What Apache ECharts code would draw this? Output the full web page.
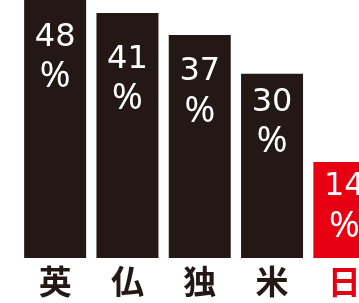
<!DOCTYPE html>
<html>
<head>
<meta charset="utf-8">
<script src="https://cdn.jsdelivr.net/npm/echarts@6/dist/echarts.min.js"></script>
<style>
html,body{margin:0;padding:0;background:#fff;}
#c{width:359px;height:303px;}
</style>
</head>
<body>
<div id="c"></div>
<script>
// data
var categories = ['英', '仏', '独', '米', '日'];
var values = [48, 41, 37, 30, 14];
var highlight = ['日'];

// layout (label drop below the bar top, px)
var labelDrop = [44, 28, 18, 10, 6];

var DARK = '#231815';
var RED = '#e60012';

var chart = echarts.init(document.getElementById('c'), null, {renderer: 'canvas'});
var seriesData = values.map(function (v, i) {
  var hi = highlight.indexOf(categories[i]) >= 0;
  return {
    value: v,
    itemStyle: {color: hi ? RED : DARK},
    label: {offset: [0, labelDrop[i]]}
  };
});

chart.setOption({
  animation: false,
  grid: {left: 19, width: 361.5, top: 0, height: 258, containLabel: false, outerBoundsMode: 'none'},
  xAxis: {
    type: 'category',
    data: categories,
    axisLine: {show: false},
    axisTick: {show: false},
    axisLabel: {
      margin: 7,
      fontSize: 33,
      fontWeight: 'bold',
      fontFamily: 'Noto Sans CJK JP',
      color: function (val) { return highlight.indexOf(val) >= 0 ? RED : DARK; }
    }
  },
  yAxis: {
    type: 'value',
    min: -3.4,
    max: 43.34,
    startValue: -3.4,
    show: false,
    splitLine: {show: false}
  },
  series: [{
    type: 'bar',
    data: seriesData,
    barWidth: 62,
    clip: false,
    label: {
      show: true,
      position: 'insideTop',
      distance: 0,
      formatter: function (p) { return '{n|' + p.value + '}\n{p|%}'; },
      rich: {
        n: {fontSize: 32, lineHeight: 38, color: '#fff', fontFamily: 'DejaVu Sans', align: 'center'},
        p: {fontSize: 37, lineHeight: 40, color: '#fff', fontFamily: 'Noto Sans', align: 'center'}
      }
    }
  }]
});
</script>
</body>
</html>
